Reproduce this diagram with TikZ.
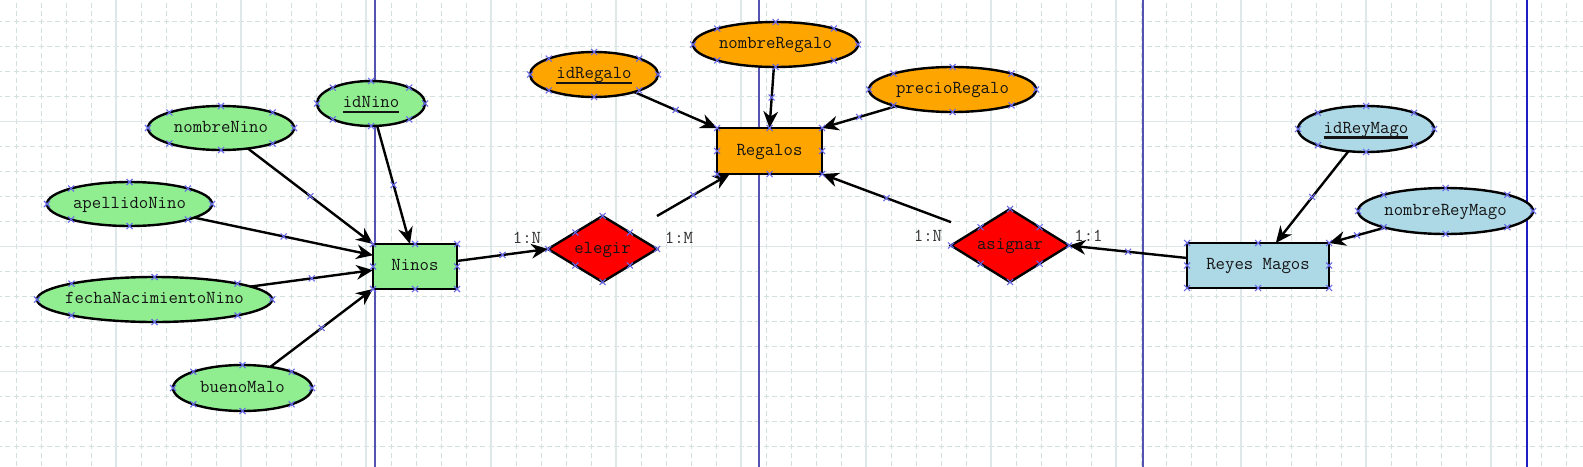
\documentclass[tikz,border=0pt]{standalone}
\usepackage{fontspec}
\usetikzlibrary{shapes.geometric,arrows.meta,calc}
\definecolor{gridminor}{RGB}{210,224,224}
\definecolor{gridmajor}{RGB}{222,232,232}
\definecolor{pageline}{RGB}{84,84,176}
\definecolor{pagelinetwo}{RGB}{30,30,196}
\definecolor{cpcol}{RGB}{105,105,235}
\definecolor{attgreen}{RGB}{144,238,144}
\definecolor{attorange}{RGB}{255,165,0}
\definecolor{attblue}{RGB}{173,216,230}
\definecolor{relred}{RGB}{255,0,0}
\definecolor{txt}{RGB}{20,20,20}
\newcommand\zw[1]{\makebox[0pt]{#1}}
\newcommand\keyu[1]{\setbox0\hbox{#1}\rlap{\rule[-4.4pt]{\wd0}{2pt}}\box0}
\tikzset{
  base/.style={draw=black, line width=1.8pt, inner sep=0pt, outer sep=0pt,
    font=\ttfamily\fontsize{13.7}{16}\selectfont, text=txt, text height=8.5pt, text depth=2.5pt},
  attr/.style n args={3}{base, ellipse, fill=#1, minimum width=#2*0.75pt, minimum height=#3*0.75pt},
  ent/.style n args={3}{base, rectangle, fill=#1, minimum width=#2*0.75pt, minimum height=#3*0.75pt},
  rel/.style n args={2}{base, diamond, fill=relred, minimum width=#1*0.75pt, minimum height=#2*0.75pt},
  card/.style={inner sep=0pt, outer sep=0pt, font=\ttfamily\fontsize{13.7}{16}\selectfont, text=black!80},
  link/.style={draw=black, line width=1.8pt, -{Stealth[length=12.5pt,width=11pt,inset=4pt]}},
  cpx/.style={draw=cpcol, line width=0.8pt},
  minorgrid/.style={draw=gridminor, line width=0.75pt, dash pattern=on 3.75pt off 2.5pt},
  majorgrid/.style={draw=gridmajor, line width=0.9pt},
}
\newcommand\cpmark[1]{\draw[cpx] ($(#1)+(-3,-3)$) -- ++(6,6) ($(#1)+(-3,3)$) -- ++(6,-6);}
\newcommand\cpshape[1]{\foreach \a in {north,north east,east,south east,south,south west,west,north west}{\cpmark{#1.\a}}}
\begin{document}
\begin{tikzpicture}[x=0.75pt,y=-0.75pt]
\useasboundingbox (0,0) rectangle (1583,467);
\clip (0,0) rectangle (1583,467);
\fill[white] (0,0) rectangle (1583,467);
% grid
\foreach \i in {0,...,63} {\draw[minorgrid] ({16+25*\i},-5.8) -- ({16+25*\i},470);}
\foreach \j in {0,...,18} {\draw[minorgrid] (-11.5,{21.7+25*\j}) -- (1590,{21.7+25*\j});}
\foreach \i in {-1,...,11} {\draw[majorgrid] ({116+125*\i},0) -- ({116+125*\i},467);}
\foreach \j in {0,1,2} {\draw[majorgrid] (0,{121.7+125*\j}) -- (1583,{121.7+125*\j});}
\foreach \x in {375,759,1143} {\draw[pageline, line width=1.1pt] (\x,0) -- (\x,467);}
\draw[pagelinetwo, line width=1.1pt] (1527,0) -- (1527,467);
% nodes
\node[attr={attgreen}{108}{45}] (idNino) at (371,103.5) {\zw{\keyu{idNino}}};
\node[attr={attgreen}{146}{44}] (nombreNino) at (221,128) {\zw{nombreNino}};
\node[attr={attgreen}{165}{44}] (apellidoNino) at (129.5,204) {\zw{apellidoNino}};
\node[attr={attgreen}{235}{45}] (fechaNac) at (154.5,299.5) {\zw{fechaNacimientoNino}};
\node[attr={attgreen}{139}{46}] (buenoMalo) at (242.5,388) {\zw{buenoMalo}};
\node[ent={attgreen}{84}{45}] (ninos) at (415,266.5) {Ninos};
\node[rel={109}{66}] (elegir) at (602.5,249) {\zw{elegir}};
\node[ent={attorange}{105}{46}] (regalos) at (769.5,151) {Regalos};
\node[attr={attorange}{128}{45}] (idRegalo) at (594,74.5) {\zw{\keyu{idRegalo}}};
\node[attr={attorange}{165}{45}] (nombreRegalo) at (775.5,44.5) {\zw{nombreRegalo}};
\node[attr={attorange}{167}{45}] (precioRegalo) at (952.5,89.5) {\zw{precioRegalo}};
\node[rel={118}{73}] (asignar) at (1010,245.5) {\zw{asignar}};
\node[ent={attblue}{142}{45}] (reyes) at (1258,265.5) {Reyes Magos};
\node[attr={attblue}{136}{46}] (idReyMago) at (1366,129) {\zw{\keyu{idReyMago}}};
\node[attr={attblue}{175}{46}] (nombreReyMago) at (1445.5,211) {\zw{nombreReyMago}};
% cardinalities
\node[card] (c1) at (527,238) {1:N};
\node[card] (c2) at (679,238) {1:M};
\node[card] (c3) at (928,235.5) {1:N};
\node[card] (c4) at (1088.5,235.5) {1:1};
% connectors
\draw[link] (nombreNino) -- coordinate[pos=.5] (m1) (ninos.north west);
\draw[link] (idNino) -- coordinate[pos=.5] (m2) ($(ninos.north west)!0.44!(ninos.north east)$);
\draw[link] (apellidoNino) -- coordinate[pos=.5] (m3) ($(ninos.north west)!0.25!(ninos.south west)$);
\draw[link] (fechaNac) -- coordinate[pos=.5] (m4) ($(ninos.north west)!0.58!(ninos.south west)$);
\draw[link] (buenoMalo) -- coordinate[pos=.5] (m5) (ninos.south west);
\draw[link] (ninos) -- coordinate[pos=.5] (m6) (elegir.west);
\draw[link] (elegir.north -| elegir.east) -- coordinate[pos=.5] (m7) (regalos);
\draw[link] (idRegalo) -- coordinate[pos=.5] (m8) (regalos.north west);
\draw[link] (nombreRegalo) -- coordinate[pos=.5] (m9) (regalos.north);
\draw[link] (precioRegalo) -- coordinate[pos=.5] (m10) (regalos.north east);
\draw[link] ($(asignar.north -| asignar.west)!0.36!(asignar.west)$) -- coordinate[pos=.5] (m11) (regalos.south east);
\draw[link] (reyes) -- coordinate[pos=.5] (m12) (asignar.east);
\draw[link] (idReyMago) -- coordinate[pos=.5] (m13) (reyes);
\draw[link] (nombreReyMago) -- coordinate[pos=.5] (m14) (reyes.north east);
% connection points
\foreach \n in {idNino,nombreNino,apellidoNino,fechaNac,buenoMalo,ninos,elegir,regalos,idRegalo,nombreRegalo,precioRegalo,asignar,reyes,idReyMago,nombreReyMago} {\cpshape{\n}}
\foreach \m in {m1,m2,m3,m4,m5,m6,m7,m8,m9,m10,m11,m12,m13,m14} {\cpmark{\m}}
\end{tikzpicture}
\end{document}
